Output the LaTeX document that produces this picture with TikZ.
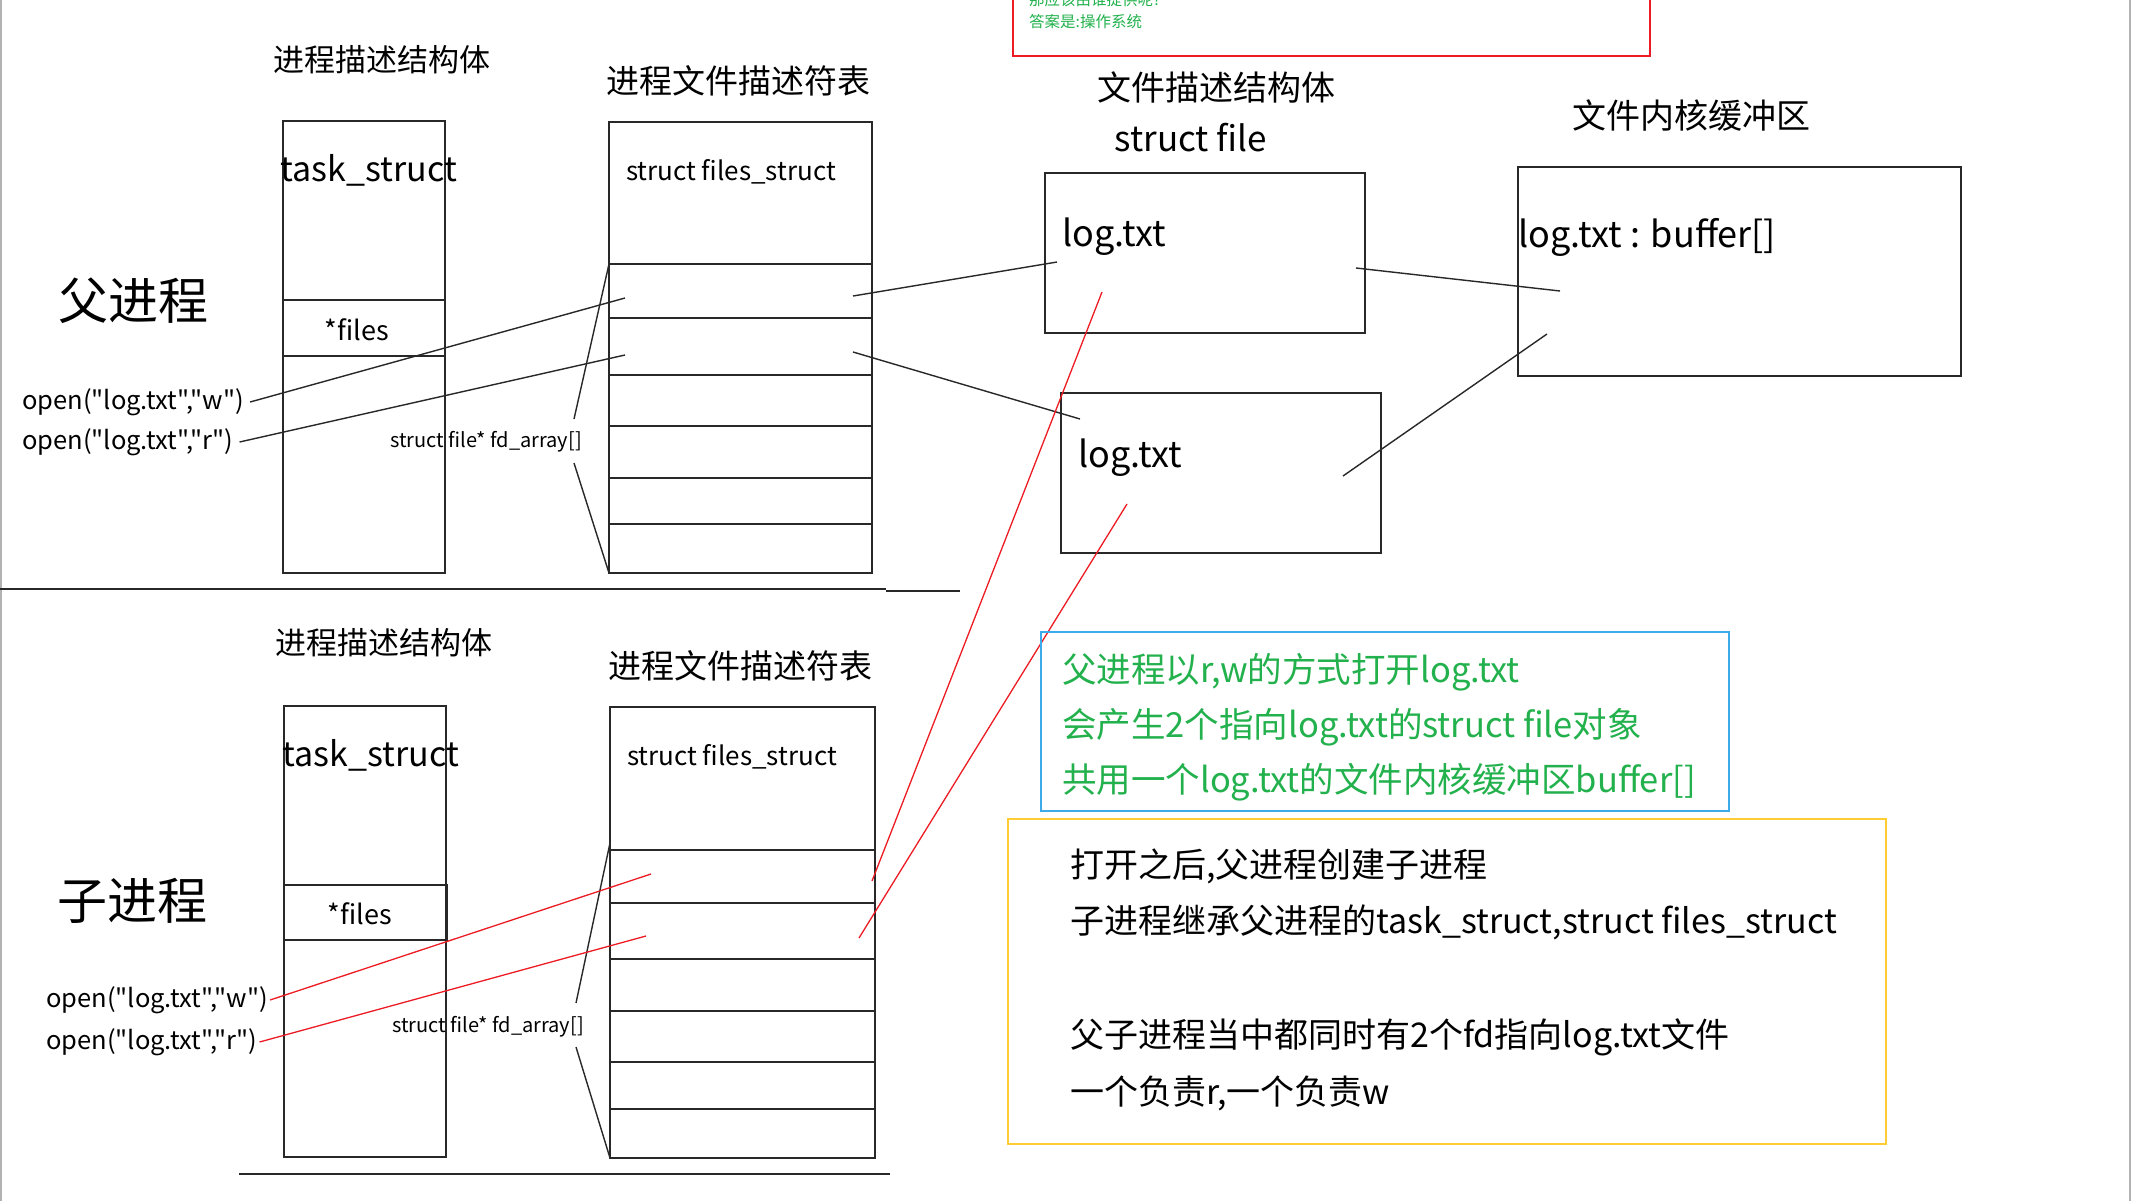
\documentclass[tikz,border=0pt]{standalone}
\usepackage{fontspec}
\setmainfont{Noto Sans CJK SC}[Ligatures=TeXOff]
\definecolor{lred}{RGB}{237,28,36}
\definecolor{lgreen}{RGB}{34,177,76}
\definecolor{lblue}{RGB}{60,170,235}
\definecolor{lyellow}{RGB}{255,204,51}
\definecolor{lgray}{RGB}{40,40,40}
\tikzset{
  box/.style={draw=lgray,line width=1.6pt,inner sep=0pt,outer sep=0pt,anchor=north west},
  conn/.style={draw=lgray,line width=1.4pt},
  rconn/.style={draw=lred,line width=1.3pt},
  txt/.style={inner sep=0pt,text=black},
  fs/.style={font=\fontsize{#1}{#1}\selectfont},
}
\begin{document}
\begin{tikzpicture}[x=1pt,y=-1pt]
\useasboundingbox (0,0) rectangle (2131,1201);
\fill[white] (0,0) rectangle (2131,1201);
% edges
\draw[gray!60,line width=2pt] (1,0) -- (1,1201);
\draw[gray!60,line width=2pt] (2130,0) -- (2130,1201);

% ===== red box at top =====
\node[box,draw=lred,minimum width=637pt,minimum height=70pt] (redbox) at (1013,-14) {};
\node[txt,anchor=west,text=lgreen,fs=15.5] (q1) at (1029,0) {那应该由谁提供呢?};
\node[txt,anchor=west,text=lgreen,fs=15.5] (q2) at (1029,22) {答案是:操作系统};

% ===== parent =====
\node[txt,fs=31] (pd1) at (382,60) {进程描述结构体};
\node[txt,fs=33] (ft1) at (738,81) {进程文件描述符表};
\node[txt,fs=50] (par) at (133,301) {父进程};
\node[box,minimum width=162pt,minimum height=452pt] (task1) at (283,121) {};
\node[txt,fs=34] (tl1) at (369,170) {task\_struct};
\node[box,minimum width=162pt,minimum height=56pt] (files1) at (283,300) {};
\node[txt,fs=27] (fl1) at (357,330) {*files};
\node[box,minimum width=263pt,minimum height=451pt] (fs1) at (609,122) {};
\node[txt,fs=26] (fsl1) at (731,172) {struct files\_struct};
\node[box,minimum width=263pt,minimum height=54pt] (ra1) at (609,264) {};
\node[box,minimum width=263pt,minimum height=57pt] (ra2) at (609,318) {};
\node[box,minimum width=263pt,minimum height=51pt] (ra3) at (609,375) {};
\node[box,minimum width=263pt,minimum height=52pt] (ra4) at (609,426) {};
\node[box,minimum width=263pt,minimum height=46pt] (ra5) at (609,478) {};
\node[txt,fs=20] (fd1) at (486,442) {struct file* fd\_array[]};
\coordinate (b1a) at (574,419);
\coordinate (b1b) at (574,463);
\draw[conn] (ra1.north west) -- (b1a);
\draw[conn] (b1b) -- (fs1.south west);
\node[txt,anchor=west,fs=25.5] (ow1) at (22,402) {open("log.txt","w")};
\node[txt,anchor=west,fs=25.5] (or1) at (22,442) {open("log.txt","r")};
\coordinate (e1w) at (625,298);
\coordinate (e1r) at (625,355);
\draw[conn] ([xshift=6pt]ow1.east) -- (e1w);
\draw[conn] ([xshift=6pt]or1.east) -- (e1r);

\node[txt,fs=34] (sfh) at (1216,87) {文件描述结构体};
\node[txt,fs=35] (sfh2) at (1191,138) {struct file};
\node[txt,fs=34] (kbh) at (1691,116) {文件内核缓冲区};
\node[box,minimum width=320pt,minimum height=160pt] (sf1) at (1045,173) {};
\node[txt,anchor=west,fs=36] (sfl1) at (1062,237) {log.txt};
\node[box,minimum width=320pt,minimum height=160pt] (sf2) at (1061,393) {};
\node[txt,anchor=west,fs=36] (sfl2) at (1078,458) {log.txt};
\node[box,minimum width=443pt,minimum height=209pt] (buf) at (1518,167) {};
\node[txt,anchor=west,fs=36] (bufl) at (1518,237) {log.txt : buffer[]};

\coordinate (p1a) at (853,296); \coordinate (p1b) at (1057,262);
\coordinate (p2a) at (853,352); \coordinate (p2b) at (1080,419);
\draw[conn] (p1a) -- (p1b);
\draw[conn] (p2a) -- (p2b);
\coordinate (k1a) at (1356,268); \coordinate (k1b) at (1560,291);
\coordinate (k2a) at (1343,476); \coordinate (k2b) at (1547,334);
\draw[conn] (k1a) -- (k1b);
\draw[conn] (k2a) -- (k2b);

\coordinate (s1a) at (0,589); \coordinate (s1b) at (886,589);
\coordinate (s1c) at (886,591); \coordinate (s1d) at (960,591);
\draw[conn] (s1a) -- (s1b);
\draw[conn] (s1c) -- (s1d);

% ===== child =====
\node[txt,fs=31] (pd2) at (384,643) {进程描述结构体};
\node[txt,fs=33] (ft2) at (740,666) {进程文件描述符表};
\node[txt,fs=50] (chd) at (132,901) {子进程};
\node[box,minimum width=162pt,minimum height=451pt] (task2) at (284,706) {};
\node[txt,fs=34] (tl2) at (371,755) {task\_struct};
\node[box,minimum width=163pt,minimum height=55pt] (files2) at (284,885) {};
\node[txt,fs=27] (fl2) at (360,914) {*files};
\node[box,minimum width=265pt,minimum height=451pt] (fs2) at (610,707) {};
\node[txt,fs=26] (fsl2) at (732,757) {struct files\_struct};
\node[box,minimum width=265pt,minimum height=53pt] (rb1) at (610,850) {};
\node[box,minimum width=265pt,minimum height=56pt] (rb2) at (610,903) {};
\node[box,minimum width=265pt,minimum height=52pt] (rb3) at (610,959) {};
\node[box,minimum width=265pt,minimum height=51pt] (rb4) at (610,1011) {};
\node[box,minimum width=265pt,minimum height=47pt] (rb5) at (610,1062) {};
\node[txt,fs=20] (fd2) at (488,1027) {struct file* fd\_array[]};
\coordinate (b2a) at (576,1003);
\coordinate (b2b) at (576,1047);
\draw[conn] ([yshift=7pt]rb1.north west) -- (b2a);
\draw[conn] (b2b) -- (fs2.south west);
\node[txt,anchor=west,fs=25.5] (ow2) at (46,1000) {open("log.txt","w")};
\node[txt,anchor=west,fs=25.5] (or2) at (46,1042) {open("log.txt","r")};
\coordinate (e2w) at (651,874);
\coordinate (e2r) at (646,936);
\draw[rconn] ([xshift=2pt]ow2.east) -- (e2w);
\draw[rconn] ([xshift=2pt]or2.east) -- (e2r);
\coordinate (c1a) at (872,881); \coordinate (c1b) at (1102,292);
\coordinate (c2a) at (859,938); \coordinate (c2b) at (1127,504);
\draw[rconn] (c1a) -- (c1b);
\draw[rconn] (c2a) -- (c2b);
\coordinate (s2a) at (239,1174); \coordinate (s2b) at (890,1174);
\draw[conn] (s2a) -- (s2b);

% ===== notes =====
\node[box,draw=lblue,line width=1.8pt,minimum width=688pt,minimum height=179pt] (bluebox) at (1041,632) {};
\node[txt,anchor=west,text=lgreen,fs=34.5] (g1) at (1062,672) {父进程以r,w的方式打开log.txt};
\node[txt,anchor=west,text=lgreen,fs=34.5] (g2) at (1062,727) {会产生2个指向log.txt的struct file对象};
\node[txt,anchor=west,text=lgreen,fs=34.5] (g3) at (1062,782) {共用一个log.txt的文件内核缓冲区buffer[]};

\node[box,draw=lyellow,line width=1.8pt,minimum width=878pt,minimum height=325pt] (ybox) at (1008,819) {};
\node[txt,anchor=west,fs=34] (y1) at (1070,866) {打开之后,父进程创建子进程};
\node[txt,anchor=west,fs=34] (y2) at (1070,922) {子进程继承父进程的task\_struct,struct files\_struct};
\node[txt,anchor=west,fs=34] (y3) at (1070,1037) {父子进程当中都同时有2个fd指向log.txt文件};
\node[txt,anchor=west,fs=34] (y4) at (1070,1093) {一个负责r,一个负责w};
\end{tikzpicture}
\end{document}
